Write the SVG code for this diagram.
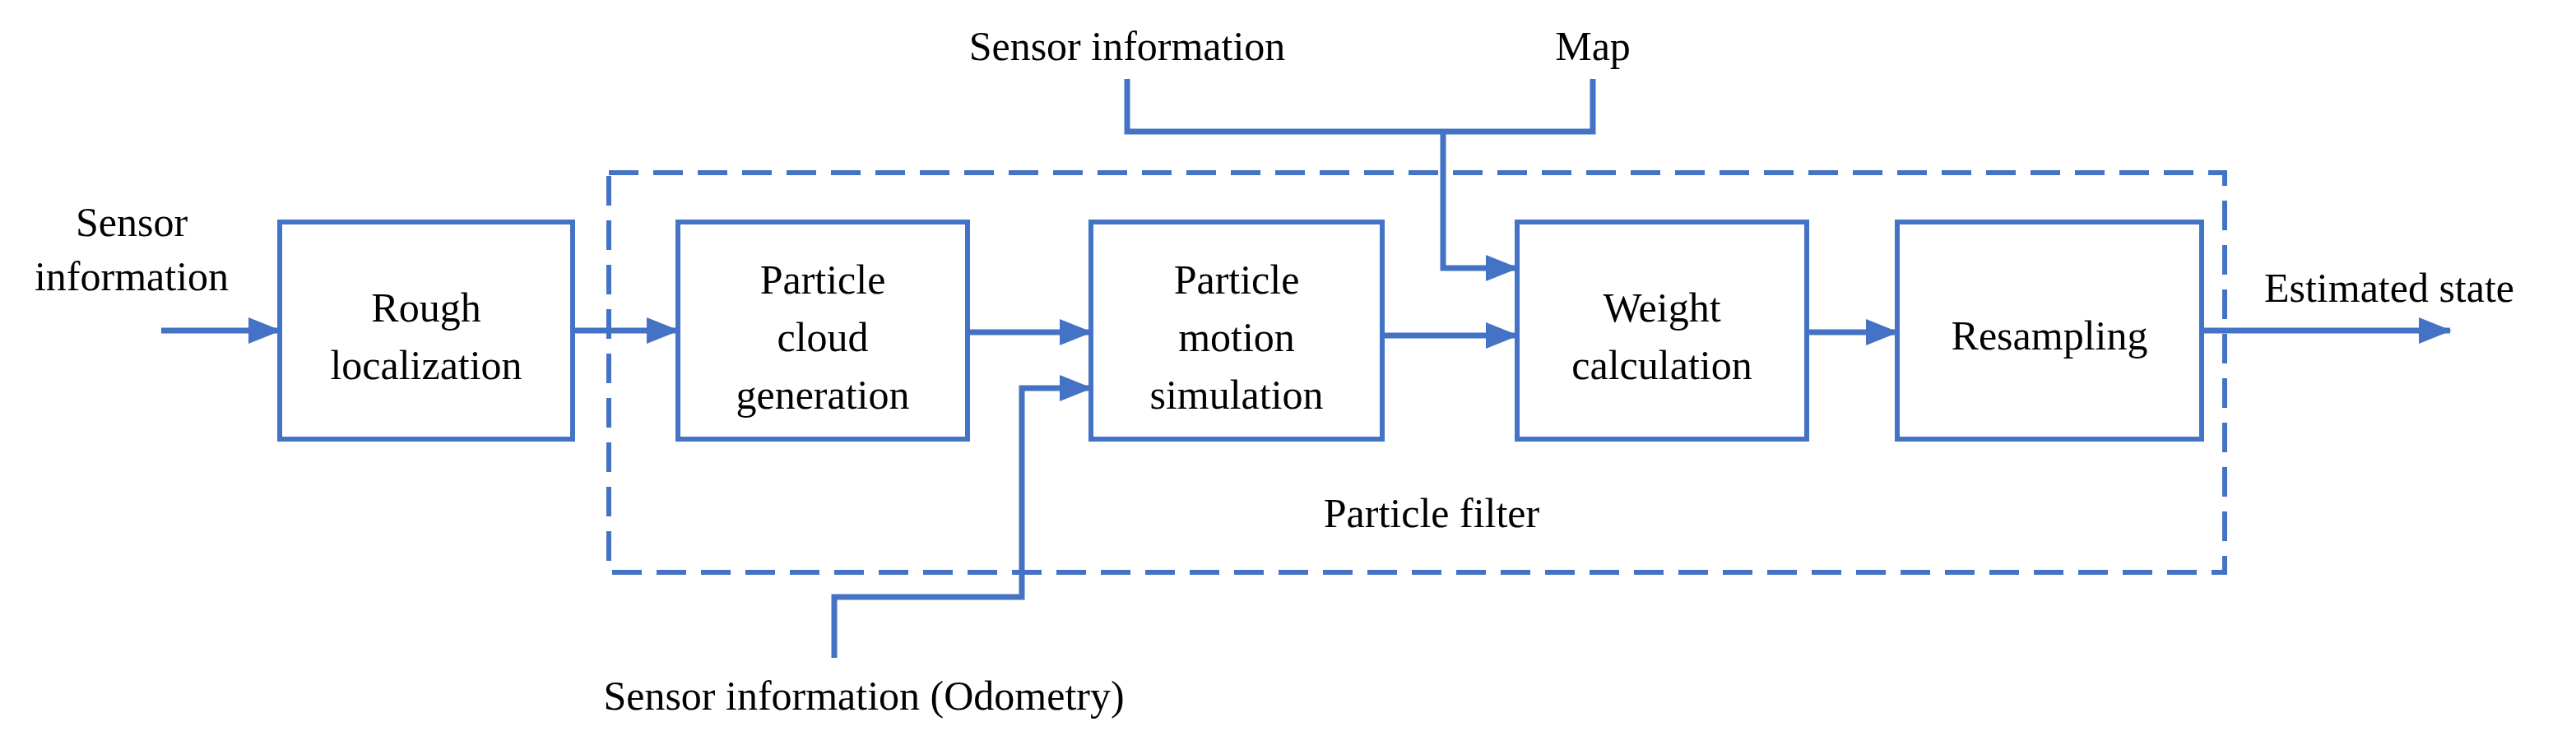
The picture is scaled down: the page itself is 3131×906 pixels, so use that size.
<svg xmlns="http://www.w3.org/2000/svg" width="3131" height="906" viewBox="0 0 3131 906">
<style>
.b{fill:#fff;stroke:#4472C4;stroke-width:6}
.l{fill:none;stroke:#4472C4;stroke-width:7}
.t{font-family:"Liberation Serif","Times New Roman",serif;font-size:50px;fill:#000;text-anchor:middle;dominant-baseline:central}
</style>
<defs><marker id="a" markerUnits="userSpaceOnUse" markerWidth="40" markerHeight="32" refX="38" refY="16" orient="auto"><path d="M0,0L40,16L0,32z" fill="#4472C4"/></marker></defs>
<rect x="740" y="210" width="1964" height="486" fill="none" stroke="#4472C4" stroke-width="6" stroke-dasharray="36,18"/>
<text class="t" x="1740" y="624">Particle filter</text>
<g id="connectors">
<path class="l" d="M196,402H340" marker-end="url(#a)"/>
<path class="l" d="M696,402H824" marker-end="url(#a)"/>
<path class="l" d="M1176,404H1326" marker-end="url(#a)"/>
<path class="l" d="M1680,408H1844" marker-end="url(#a)"/>
<path class="l" d="M2196,404H2306" marker-end="url(#a)"/>
<path class="l" d="M2676,402H2978" marker-end="url(#a)"/>
<path class="l" d="M1370,96V160H1936V96"/>
<path class="l" d="M1754,160V326H1844" marker-end="url(#a)"/>
<path class="l" d="M1014,800V726H1242V472H1326" marker-end="url(#a)"/>
</g>
<g id="n1"><rect class="b" x="340" y="270" width="356" height="264"/><text class="t" x="518" y="374">Rough</text><text class="t" x="518" y="444">localization</text></g>
<g id="n2"><rect class="b" x="824" y="270" width="352" height="264"/><text class="t" x="1000" y="340">Particle</text><text class="t" x="1000" y="410">cloud</text><text class="t" x="1000" y="480">generation</text></g>
<g id="n3"><rect class="b" x="1326" y="270" width="354" height="264"/><text class="t" x="1503" y="340">Particle</text><text class="t" x="1503" y="410">motion</text><text class="t" x="1503" y="480">simulation</text></g>
<g id="n4"><rect class="b" x="1844" y="270" width="352" height="264"/><text class="t" x="2020" y="374">Weight</text><text class="t" x="2020" y="444">calculation</text></g>
<g id="n5"><rect class="b" x="2306" y="270" width="370" height="264"/><text class="t" x="2491" y="408">Resampling</text></g>
<g id="labels">
<text class="t" x="160" y="270">Sensor</text><text class="t" x="160" y="336">information</text>
<text class="t" x="1370" y="56">Sensor information</text>
<text class="t" x="1936" y="56">Map</text>
<text class="t" x="2904" y="350">Estimated state</text>
<text class="t" x="1050" y="846">Sensor information (Odometry)</text>
</g>
</svg>
